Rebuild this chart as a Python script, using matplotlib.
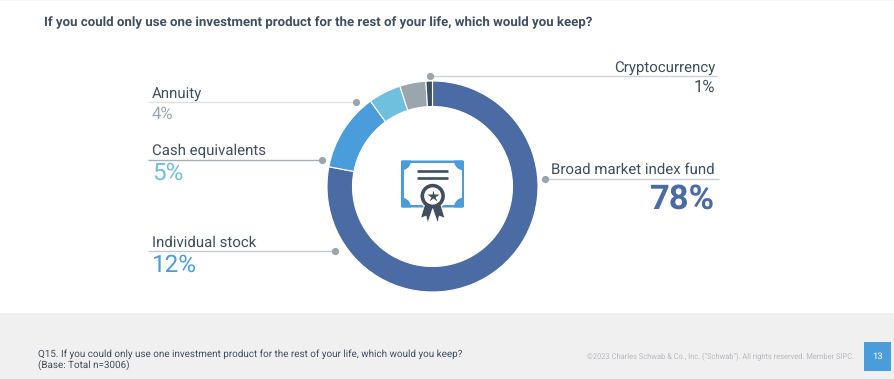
"""Schwab survey slide: donut of the one investment product people would keep."""
import matplotlib
matplotlib.use("Agg")
import matplotlib.pyplot as plt
from matplotlib.patches import Circle, FancyBboxPatch, Polygon, Rectangle

categories = ["Broad market index fund", "Individual stock", "Cash equivalents", "Annuity", "Cryptocurrency"]
values = [78, 12, 5, 4, 1]
value_labels = ["78%", "12%", "5%", "4%", "1%"]

title = "If you could only use one investment product for the rest of your life, which would you keep?"
footnote = ["Q15. If you could only use one investment product for the rest of your life, which would you keep?",
            "(Base: Total n=3006)"]
copyright_txt = "©2023 Charles Schwab & Co., Inc. (\"Schwab\"). All rights reserved. Member SIPC."
page_no = "13"

COLORS = ["#4A6BA3", "#4A9DDB", "#6EC0DE", "#9AA5AE", "#3F4F60"]
TXT, DOT, FOOT = "#3F4F60", "#9AA5AE", "#F0F0F0"
W, H = 894, 379
CX, CY, R, R_IN = 432.5, 186.5, 105.5, 80

plt.rcParams["font.family"] = ["Roboto", "DejaVu Sans"]
plt.rcParams["text.hinting"] = "no_hinting"  # widths scale evenly with size

fig = plt.figure(figsize=(W / 100, H / 100), dpi=100, facecolor="white")

# donut in its own axes, placed by pixels
axP = fig.add_axes([(CX - R) / W, 1 - (CY + R) / H, 2 * R / W, 2 * R / H])
axP.pie(values, colors=COLORS, startangle=90, counterclock=False, radius=1,
        wedgeprops=dict(width=1 - R_IN / R, edgecolor="white", linewidth=0.8))
axP.set_xlim(-1, 1); axP.set_ylim(-1, 1)

# everything else in pixel coordinates, y going down like the screenshot
ax = fig.add_axes([0, 0, 1, 1], zorder=3)
ax.set_xlim(0, W); ax.set_ylim(H, 0); ax.axis("off"); ax.patch.set_alpha(0)

ax.add_patch(Rectangle((0, 313), W, H - 313, fc=FOOT, ec="none"))
ax.add_patch(Rectangle((0, 0), W, 1.2, fc="#F4F4F4", ec="none"))
ax.text(44, 26.5, title, fontsize=9.5, fontweight="bold", color=TXT)

# leader lines: x0, x1, y, colour, dot x
leaders = [(545, 719, 179, "#C9CFD6", 545), (148, 335, 250.5, "#C3C9D0", 335),
           (148, 322, 160, "#A6AFBA", 322), (148, 355.5, 101.7, "#DFE2E5", 355.5),
           (429.5, 716.5, 75.5, "#CDD2D8", 429.5)]
for x0, x1, y, col, dx in leaders:
    ax.plot([x0, x1], [y, y], color=col, lw=1.0, solid_capstyle="butt")
    ax.plot(dx, y, "o", ms=5.2, color=DOT, mec="none")

# label text: x, ha, name baseline, value baseline, value size, value colour, weight
label_pos = [(715, "right", 173.5, 209, 24.8, COLORS[0], "bold"),
             (152, "left", 247, 272, 17.5, COLORS[1], "normal"),
             (152, "left", 155, 180, 17.5, COLORS[2], "normal"),
             (152, "left", 99, 119, 12, COLORS[3], "normal"),
             (715, "right", 73, 92, 12, TXT, "normal")]
for name, val, (x, ha, yn, yv, fs, col, wt) in zip(categories, value_labels, label_pos):
    ax.text(x, yn, name, ha=ha, va="baseline", fontsize=10.8, color=TXT)
    ax.text(x, yv, val, ha=ha, va="baseline", fontsize=fs, color=col, fontweight=wt)

# certificate icon
BLUE, DARK = "#4A9DDB", "#3F4F60"
frame = FancyBboxPatch((401, 160.5), 63, 47, boxstyle="round,pad=0,rounding_size=1.5", fc=BLUE, ec="none")
ax.add_patch(frame)
ax.add_patch(Rectangle((403.5, 163), 58, 42, fc="white", ec="none"))
for px, py in [(401, 160.5), (464, 160.5), (401, 207.5), (464, 207.5)]:
    c = Circle((px, py), 10, fc=BLUE, ec="none")
    ax.add_patch(c)
    c.set_clip_path(frame)
for y in (170.7, 178.3):
    ax.plot([417.3, 448], [y, y], color=DARK, lw=1.9, solid_capstyle="butt")
ax.add_patch(Circle((432.7, 196), 14, fc="white", ec="none"))
for s in (-1, 1):
    pts = [(-7.5, 203), (-12, 218), (-6.5, 216), (-5, 223), (0.5, 207)]
    ax.add_patch(Polygon([(432.7 + s * a, b) for a, b in pts], fc=DARK, ec="white", lw=0.4))
ax.add_patch(Circle((432.7, 196), 12.2, fc=DARK, ec="none"))
ax.add_patch(Circle((432.7, 196), 8.6, fc="white", ec="none"))
ax.plot(432.7, 195.8, marker="*", ms=9, color=DARK, mec="none")

# footer
ax.text(38, 357, footnote[0], fontsize=7.1, color=TXT)
ax.text(38, 368, footnote[1], fontsize=7.1, color=TXT)
ax.text(854, 359, copyright_txt, fontsize=5.42, color="#B4BAC0", ha="right")
ax.add_patch(Rectangle((864, 342), 27, 29, fc=BLUE, ec="none"))
ax.text(877.5, 356.5, page_no, fontsize=6.8, color="white", ha="center", va="center")

fig.savefig("out.png", dpi=100, facecolor="white")
